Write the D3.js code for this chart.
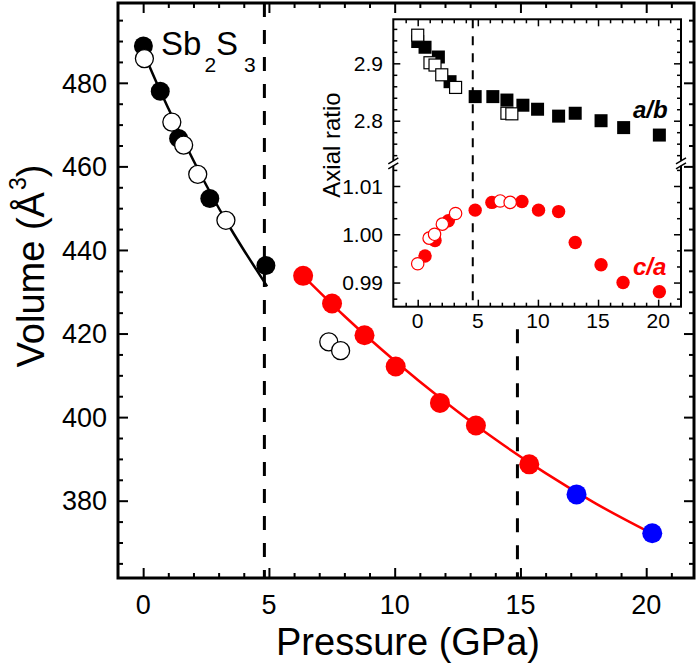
<!DOCTYPE html>
<html><head><meta charset="utf-8">
<script src="https://cdn.jsdelivr.net/npm/d3@7"></script>
<style>body{margin:0;background:#fff} text{font-family:Arial,"Liberation Sans",sans-serif}</style>
</head><body><svg id="c" width="700" height="668"></svg>
<script>
// ---------- main panel data ----------
const xMajorTicks = [0, 5, 10, 15, 20];
const yMajorTicks = [380, 400, 420, 440, 460, 480];

const blackFilledP = [0.01, 0.68, 1.41, 2.65, 4.88];
const blackFilledV = [488.8, 478.0, 466.7, 452.3, 436.3];
const openP = [0.05, 1.14, 1.61, 2.17, 3.29, 7.38, 7.85];
const openV = [485.8, 470.6, 465.1, 458.1, 447.1, 418.0, 415.9];
const redP = [6.36, 7.51, 8.8, 10.04, 11.8, 13.23, 15.35];
const redV = [433.8, 427.2, 419.6, 412.1, 403.4, 398.0, 388.7];
const blueP = [17.23, 20.24];
const blueV = [381.5, 372.2];

const fitLowP = [0, 0.5, 1, 1.5, 2, 2.5, 3, 3.5, 4, 4.5, 4.93];
const fitLowV = [487.5, 480.5, 473.9, 467.5, 461.4, 455.6, 450.1, 444.9, 440.0, 435.3, 431.3];
const fitHighP = [6.36, 8, 10, 12, 14, 16, 18, 20.24];
const fitHighV = [433.8, 424.2, 413.5, 403.7, 394.7, 386.6, 379.3, 372.1];

const transitionP = [4.82, 14.88];

// ---------- inset data ----------
const insetXTicks = [0, 5, 10, 15, 20];
const abTicks = [2.8, 2.9];
const caTicks = [0.99, 1.00, 1.01];

const abFilledP = [0.0, 0.61, 1.72, 2.69, 4.78, 6.25, 7.42, 8.75, 9.97, 11.72, 13.1, 15.25, 17.13, 20.1];
const abFilledV = [2.938, 2.928, 2.911, 2.868, 2.842, 2.842, 2.836, 2.827, 2.820, 2.808, 2.813, 2.800, 2.788, 2.775];
const abOpenP = [0.0, 1.02, 1.44, 2.0, 3.15, 7.42, 7.83];
const abOpenV = [2.949, 2.901, 2.897, 2.880, 2.858, 2.813, 2.812];

const caFilledP = [0.61, 1.44, 2.55, 4.78, 6.17, 8.67, 10.05, 11.72, 13.1, 15.25, 17.08, 20.1];
const caFilledV = [0.9955, 0.9987, 1.0028, 1.0050, 1.0066, 1.0068, 1.0050, 1.0047, 0.9983, 0.9937, 0.9900, 0.9881];
const caOpenP = [0.0, 0.95, 1.4, 2.05, 3.15, 6.86, 7.69];
const caOpenV = [0.9939, 0.9992, 1.0000, 1.0021, 1.0043, 1.0069, 1.0066];
const insetTransitionP = 4.58;

// ---------- drawing ----------
const svg = d3.select("#c");
svg.append("rect").attr("width",700).attr("height",668).attr("fill","#fff");

const M = {l:118, r:694, t:3, b:578};
const x = d3.scaleLinear().domain([-1.0, 21.9]).range([M.l, M.r]);
const y = d3.scaleLinear().domain([361.5, 499.1]).range([M.b, M.t]);

function tickAxis(axisFn, scale, vals, size, tx, ty, sw) {
  const g = svg.append("g").attr("transform", `translate(${tx},${ty})`)
    .call(axisFn(scale).tickValues(vals).tickSize(-size).tickFormat(""));
  g.select(".domain").remove();
  g.selectAll("line").attr("stroke","#000").attr("stroke-width", sw);
  return g;
}
const range = (a,b,s) => d3.range(a, b + s/2, s);

// main ticks
const xMinor = range(0, 21, 1).filter(v => v % 5 !== 0);
const yMinor = range(365, 495, 5).filter(v => v % 20 !== 0);
[[d3.axisBottom,0,M.b],[d3.axisTop,0,M.t]].forEach(([f,tx,ty])=>{
  tickAxis(f, x, xMinor, 5, tx, ty, 2);
  tickAxis(f, x, xMajorTicks, 10, tx, ty, 2);
});
[[d3.axisLeft,M.l,0],[d3.axisRight,M.r,0]].forEach(([f,tx,ty])=>{
  tickAxis(f, y, yMinor, 5, tx, ty, 2);
  tickAxis(f, y, yMajorTicks, 10, tx, ty, 2);
});
// main tick labels
svg.append("g").selectAll("text").data(xMajorTicks).join("text")
  .attr("x", d=>x(d)).attr("y", 614).attr("text-anchor","middle")
  .attr("font-size",27).text(d=>d);
svg.append("g").selectAll("text").data(yMajorTicks).join("text")
  .attr("x", 107).attr("y", d=>y(d)).attr("dy","0.36em").attr("text-anchor","end")
  .attr("font-size",27).text(d=>d);

// dashed transition lines
svg.append("line").attr("x1",x(transitionP[0])).attr("x2",x(transitionP[0]))
  .attr("y1",M.t).attr("y2",M.b).attr("stroke","#000").attr("stroke-width",3).attr("stroke-dasharray","14,13");
svg.append("line").attr("x1",x(transitionP[1])).attr("x2",x(transitionP[1]))
  .attr("y1",y(421)).attr("y2",M.b).attr("stroke","#000").attr("stroke-width",3).attr("stroke-dasharray","14,13");

// fit lines
const lineGen = d3.line().x(d=>x(d[0])).y(d=>y(d[1])).curve(d3.curveMonotoneX);
svg.append("path").datum(d3.zip(fitLowP, fitLowV)).attr("d", lineGen)
  .attr("fill","none").attr("stroke","#000").attr("stroke-width",2.5);
svg.append("path").datum(d3.zip(fitHighP, fitHighV)).attr("d", lineGen)
  .attr("fill","none").attr("stroke","#ff0000").attr("stroke-width",2.5);

function circles(P, V, r, fill, stroke, sw, xs, ys) {
  svg.append("g").selectAll("circle").data(d3.zip(P,V)).join("circle")
    .attr("cx", d=>xs(d[0])).attr("cy", d=>ys(d[1])).attr("r", r)
    .attr("fill", fill).attr("stroke", stroke).attr("stroke-width", sw);
}
circles(blackFilledP, blackFilledV, 9.5, "#000", "none", 0, x, y);
circles(openP, openV, 9, "#fff", "#000", 1.3, x, y);
circles(redP, redV, 10, "#ff0000", "none", 0, x, y);
circles(blueP, blueV, 10, "#0000ff", "none", 0, x, y);

// main frame
svg.append("rect").attr("x",M.l).attr("y",M.t).attr("width",M.r-M.l).attr("height",M.b-M.t)
  .attr("fill","none").attr("stroke","#000").attr("stroke-width",3);

// titles
svg.append("text").attr("x",408).attr("y",655).attr("text-anchor","middle")
  .attr("font-size",38).text("Pressure (GPa)");
const yl = svg.append("text").attr("transform","translate(44,266) rotate(-90)")
  .attr("text-anchor","middle").attr("font-size",38);
yl.append("tspan").text("Volume (Å");
yl.append("tspan").attr("font-size",23).attr("dx",2).attr("dy",-18).text("3");
yl.append("tspan").attr("dy",18).text(")");

const sb = svg.append("text").attr("x",161).attr("y",55).attr("font-size",33);
sb.append("tspan").text("Sb");
sb.append("tspan").attr("font-size",21).attr("dx",3).attr("dy",17).text("2");
sb.append("tspan").attr("dy",-17).text("S");
sb.append("tspan").attr("font-size",21).attr("dx",6).attr("dy",17).text("3");

// ---------- inset ----------
const I = {l:393.3, r:681, t:19.3, b:306.7, br:163.3};
const xi = d3.scaleLinear().domain([-2.03, 21.9]).range([I.l, I.r]);
const yTop = d3.scaleLinear().domain([2.7258, 2.9767]).range([I.br, I.t]);
const yBot = d3.scaleLinear().domain([0.9850, 1.0147]).range([I.b, I.br]);

svg.append("rect").attr("x",I.l).attr("y",I.t).attr("width",I.r-I.l).attr("height",I.b-I.t).attr("fill","#fff");

const xiMinor = range(-1, 21, 1).filter(v => v % 5 !== 0);
[[d3.axisBottom,I.b],[d3.axisTop,I.t]].forEach(([f,ty])=>{
  tickAxis(f, xi, xiMinor, 4, 0, ty, 1.5);
  tickAxis(f, xi, insetXTicks, 7, 0, ty, 1.5);
});
const abMinor = range(2.74, 2.96, 0.02).filter(v => Math.abs(v-2.8)>1e-6 && Math.abs(v-2.9)>1e-6);
const caMinor = [0.98667, 0.99333, 0.99667, 1.00333, 1.00667, 1.01333];
[[d3.axisLeft,I.l],[d3.axisRight,I.r]].forEach(([f,tx])=>{
  tickAxis(f, yTop, abMinor, 4, tx, 0, 1.5);
  tickAxis(f, yTop, abTicks, 7, tx, 0, 1.5);
  tickAxis(f, yBot, caMinor, 4, tx, 0, 1.5);
  tickAxis(f, yBot, caTicks, 7, tx, 0, 1.5);
});

svg.append("g").selectAll("text").data(insetXTicks).join("text")
  .attr("x", d=>xi(d)).attr("y", 328).attr("text-anchor","middle").attr("font-size",21).text(d=>d);
svg.append("g").selectAll("text").data(abTicks).join("text")
  .attr("x", 383).attr("y", d=>yTop(d)).attr("dy","0.36em").attr("text-anchor","end")
  .attr("font-size",21).text(d=>d.toFixed(1));
svg.append("g").selectAll("text").data(caTicks).join("text")
  .attr("x", 383).attr("y", d=>yBot(d)).attr("dy","0.36em").attr("text-anchor","end")
  .attr("font-size",21).text(d=>d.toFixed(2));

svg.append("text").attr("transform","translate(340,145) rotate(-90)").attr("text-anchor","middle")
  .attr("font-size",24).text("Axial ratio");

svg.append("line").attr("x1",xi(insetTransitionP)).attr("x2",xi(insetTransitionP))
  .attr("y1",I.t).attr("y2",I.b).attr("stroke","#000").attr("stroke-width",2).attr("stroke-dasharray","9,8");

function squares(P, V, s, fill, stroke, sw, ys) {
  svg.append("g").selectAll("rect").data(d3.zip(P,V)).join("rect")
    .attr("x", d=>xi(d[0])-s/2).attr("y", d=>ys(d[1])-s/2).attr("width", s).attr("height", s)
    .attr("fill", fill).attr("stroke", stroke).attr("stroke-width", sw);
}
function icircles(P, V, r, fill, stroke, sw, ys) {
  svg.append("g").selectAll("circle").data(d3.zip(P,V)).join("circle")
    .attr("cx", d=>xi(d[0])).attr("cy", d=>ys(d[1])).attr("r", r)
    .attr("fill", fill).attr("stroke", stroke).attr("stroke-width", sw);
}
squares(abFilledP, abFilledV, 13, "#000", "none", 0, yTop);
squares(abOpenP, abOpenV, 12, "#fff", "#000", 1.2, yTop);
icircles(caFilledP, caFilledV, 6.7, "#ff0000", "none", 0, yBot);
icircles(caOpenP, caOpenV, 6.2, "#fff", "#ff0000", 1.2, yBot);

svg.append("rect").attr("x",I.l).attr("y",I.t).attr("width",I.r-I.l).attr("height",I.b-I.t)
  .attr("fill","none").attr("stroke","#000").attr("stroke-width",2);

// axis breaks
[I.l, I.r].forEach(bx=>{
  svg.append("rect").attr("x",bx-3).attr("y",I.br-2.5).attr("width",6).attr("height",5).attr("fill","#fff");
  [-2.5, 2.5].forEach(o=>{
    svg.append("line").attr("x1",bx-5).attr("y1",I.br+o+3).attr("x2",bx+5).attr("y2",I.br+o-3)
      .attr("stroke","#000").attr("stroke-width",1.5);
  });
});

svg.append("text").attr("x",633).attr("y",118).attr("font-size",24).attr("font-weight","bold")
  .attr("font-style","italic").text("a/b");
svg.append("text").attr("x",633).attr("y",275).attr("font-size",24).attr("font-weight","bold")
  .attr("font-style","italic").attr("fill","#ff0000").text("c/a");
</script></body></html>
